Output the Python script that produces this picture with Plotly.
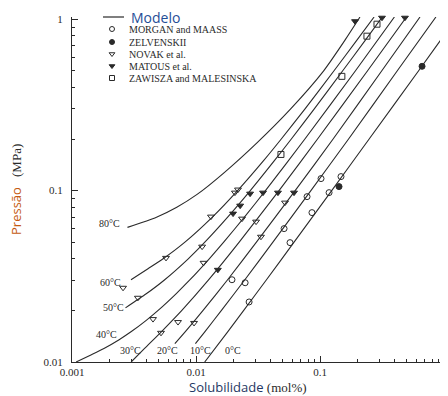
import math
import plotly.graph_objects as go

# ---------------- data ----------------
temp_labels = ["80°C", "60°C", "50°C", "40°C", "30°C", "20°C", "10°C", "0°C"]

# model curves: solubility (mol%) and pressure (MPa)
x80 = [0.0028, 0.0048, 0.0070, 0.0102, 0.0168, 0.031, 0.058, 0.107, 0.158, 0.210]
p80 = [0.061, 0.070, 0.080, 0.095, 0.127, 0.19, 0.30, 0.50, 0.75, 1.03]
x60 = [0.00299, 0.0041, 0.00543, 0.00814, 0.01354, 0.02165, 0.0352, 0.0487, 0.0757, 0.1297, 0.197, 0.273]
p60 = [0.0302, 0.035, 0.040, 0.050, 0.070, 0.10, 0.15, 0.20, 0.30, 0.50, 0.75, 1.03]
x50 = [0.0027, 0.00397, 0.00553, 0.00866, 0.01178, 0.0180, 0.0274, 0.043, 0.0587, 0.0899, 0.1524, 0.2305, 0.318]
p50 = [0.0207, 0.025, 0.030, 0.040, 0.050, 0.070, 0.10, 0.15, 0.20, 0.30, 0.50, 0.75, 1.03]
x40 = [0.00108, 0.00142, 0.00181, 0.0024, 0.00299, 0.00397, 0.00495, 0.0069, 0.00887, 0.01279, 0.01672, 0.02456, 0.0363, 0.0755, 0.1932, 0.398]
p40 = [0.010, 0.011, 0.012, 0.0135, 0.015, 0.0175, 0.020, 0.025, 0.030, 0.040, 0.050, 0.070, 0.10, 0.20, 0.50, 1.03]
x30 = [0.0030, 0.00385, 0.00525, 0.00769, 0.01257, 0.0223, 0.0467, 0.0955, 0.2418, 0.498]
p30 = [0.010, 0.012, 0.015, 0.020, 0.030, 0.050, 0.10, 0.20, 0.50, 1.03]
x20 = [0.00675, 0.00817, 0.0114, 0.01785, 0.0307, 0.063, 0.1275, 0.315, 0.64]
p20 = [0.0128, 0.015, 0.020, 0.030, 0.050, 0.10, 0.20, 0.50, 1.03]
x10 = [0.00989, 0.01177, 0.01604, 0.02459, 0.0417, 0.0844, 0.1699, 0.42, 0.86]
p10 = [0.0128, 0.015, 0.020, 0.030, 0.050, 0.10, 0.20, 0.50, 1.03]
x0 = [0.01175, 0.018, 0.02425, 0.03675, 0.06175, 0.12425, 0.249, 0.624, 1.08]
p0 = [0.010, 0.015, 0.020, 0.030, 0.050, 0.10, 0.20, 0.50, 0.87]

curves_x = [x80, x60, x50, x40, x30, x20, x10, x0]
curves_p = [p80, p60, p50, p40, p30, p20, p10, p0]

# positions of the temperature labels (mol%, MPa)
label_x = [0.00202, 0.00205, 0.00215, 0.00191, 0.00299, 0.00589, 0.01077, 0.02005]
label_p = [0.0641, 0.0292, 0.0207, 0.0144, 0.01175, 0.01175, 0.01175, 0.01175]

# experimental data
morgan_x = [0.0786, 0.1183, 0.1019, 0.1476, 0.0513, 0.0573, 0.0861, 0.0249, 0.0268, 0.0195]
morgan_p = [0.0922, 0.0973, 0.1175, 0.1207, 0.0600, 0.0497, 0.0744, 0.0290, 0.0224, 0.0302]
zelv_x = [0.665, 0.1423]
zelv_p = [0.531, 0.1055]
novak_x = [0.00258, 0.0034, 0.0045, 0.00522, 0.00716, 0.00964, 0.00573, 0.0112, 0.0132, 0.0115,
           0.0206, 0.0218, 0.0235, 0.0305, 0.0334, 0.0522]
novak_p = [0.0271, 0.0237, 0.0178, 0.0148, 0.0171, 0.0169, 0.0405, 0.0471, 0.0705, 0.0379,
           0.0973, 0.1014, 0.0686, 0.0659, 0.0538, 0.0851]
matous_x = [0.0273, 0.0347, 0.0458, 0.0617, 0.0227, 0.0199, 0.0150, 0.1915, 0.316, 0.484]
matous_p = [0.096, 0.0973, 0.0973, 0.0973, 0.0817, 0.0734, 0.0345, 0.973, 1.02, 1.02]
zaw_x = [0.0484, 0.150, 0.239, 0.288]
zaw_p = [0.1625, 0.464, 0.796, 0.935]

x_ticks = [0.001, 0.01, 0.1, 1]
x_tick_text = ["0.001", "0.01", "0.1", "1"]
y_ticks = [0.01, 0.1, 1]
y_tick_text = ["0.01", "0.1", "1"]

legend_names = ["MORGAN and MAASS", "ZELVENSKII", "NOVAK et al.", "MATOUS et al.", "ZAWISZA and MALESINSKA"]

# ---------------- figure ----------------
SERIF = "Liberation Serif"
SANS = "Open Sans"
INK = "#2a2a2a"

# the page body has an 8px margin: plot area spans page x 72..448, y 17..362
PX0, PX1, PY0, PY1 = 72.0, 448.0, 17.0, 362.0


def px2paper_x(px):
    return (px - PX0) / (PX1 - PX0)


def py2paper_y(py):
    return (PY1 - py) / (PY1 - PY0)


fig = go.Figure()

for cx, cp in zip(curves_x, curves_p):
    fig.add_trace(go.Scatter(x=cx, y=cp, mode="lines",
                             line=dict(color=INK, width=1.1, shape="spline", smoothing=0.6),
                             showlegend=False, hoverinfo="skip"))

mk = dict(color=INK, width=1)
series = [
    (morgan_x, morgan_p, dict(symbol="circle-open", size=6, color=INK, line=mk)),
    (zelv_x, zelv_p, dict(symbol="circle", size=6, color=INK, line=mk)),
    (novak_x, novak_p, dict(symbol="triangle-down-open", size=6, color=INK, line=mk)),
    (matous_x, matous_p, dict(symbol="triangle-down", size=6, color=INK, line=mk)),
    (zaw_x, zaw_p, dict(symbol="square-open", size=6, color=INK, line=mk)),
]
for sx, sp, m in series:
    fig.add_trace(go.Scatter(x=sx, y=sp, mode="markers", marker=m, showlegend=False, cliponaxis=False))

# temperature labels (annotations on log axes take log10 positions)
for t, lx, lp in zip(temp_labels, label_x, label_p):
    fig.add_annotation(x=math.log10(lx), y=math.log10(lp), xref="x", yref="y", text=t, showarrow=False,
                       font=dict(family=SERIF, size=10, color=INK), xanchor="center", yanchor="middle")

# manual legend
leg_syms = ["circle-open", "circle", "triangle-down-open", "triangle-down", "square-open"]
leg_rows = [29, 42, 54, 66, 78]
fig.add_trace(go.Scatter(x=[112] * 5, y=leg_rows, xaxis="x2", yaxis="y2", mode="markers",
                         marker=dict(symbol=leg_syms, size=5, color=INK, line=dict(color=INK, width=1)),
                         showlegend=False, cliponaxis=False, hoverinfo="skip"))
fig.add_shape(type="line", xref="paper", yref="paper", x0=px2paper_x(103), x1=px2paper_x(124),
              y0=py2paper_y(17), y1=py2paper_y(17), line=dict(color=INK, width=1.2))
fig.add_annotation(x=px2paper_x(129), y=py2paper_y(17), xref="paper", yref="paper", text="Modelo",
                   showarrow=False, xanchor="left", yanchor="middle",
                   font=dict(family=SANS, size=14, color="#1f4e96"))
for name, ry in zip(legend_names, leg_rows):
    fig.add_annotation(x=px2paper_x(127), y=py2paper_y(ry), xref="paper", yref="paper", text=name,
                       showarrow=False, xanchor="left", yanchor="middle",
                       font=dict(family=SERIF, size=10, color=INK))

# axis titles
fig.add_annotation(x=px2paper_x(248), y=py2paper_y(387), xref="paper", yref="paper",
                   text="<span style='font-family:Open Sans;color:#1f3864'>Solubilidade</span> "
                        "<span style='font-family:Liberation Serif'>(mol%)</span>",
                   showarrow=False, font=dict(family=SANS, size=13, color=INK),
                   xanchor="center", yanchor="middle")
fig.add_annotation(x=px2paper_x(16), y=py2paper_y(190), xref="paper", yref="paper",
                   text="<span style='font-family:Open Sans;color:#c55a11'>Pressão</span>   "
                        "<span style='font-family:Liberation Serif'>(MPa)</span>",
                   showarrow=False, textangle=-90, font=dict(family=SANS, size=13, color=INK),
                   xanchor="center", yanchor="middle")

minor_x = [m * 10 ** e for e in (-3, -2, -1) for m in range(2, 10)]
minor_y = [m * 10 ** e for e in (-2, -1) for m in range(2, 10)]

fig.update_layout(
    width=440, height=388,
    margin=dict(l=64, r=0, t=9, b=34),
    paper_bgcolor="white", plot_bgcolor="white",
    xaxis=dict(type="log", range=[-3, 0.032], tickvals=x_ticks, ticktext=x_tick_text,
               ticks="inside", ticklen=6, tickcolor=INK, showline=True, linecolor=INK, linewidth=1.2,
               showgrid=False, zeroline=False, tickfont=dict(family=SERIF, size=11, color=INK),
               minor=dict(tickvals=minor_x, ticks="inside", ticklen=3, tickcolor=INK, showgrid=False)),
    yaxis=dict(type="log", range=[-2, 0.0128], tickvals=y_ticks, ticktext=y_tick_text,
               ticks="inside", ticklen=6, tickcolor=INK, showline=True, linecolor=INK, linewidth=1.2,
               showgrid=False, zeroline=False, tickfont=dict(family=SERIF, size=11, color=INK),
               ticklabelstandoff=6,
               minor=dict(tickvals=minor_y, ticks="inside", ticklen=3, tickcolor=INK, showgrid=False)),
    xaxis2=dict(overlaying="x", range=[PX0, PX1], visible=False),
    yaxis2=dict(overlaying="y", range=[PY1, PY0], visible=False),
)

fig.write_html("out.html")
